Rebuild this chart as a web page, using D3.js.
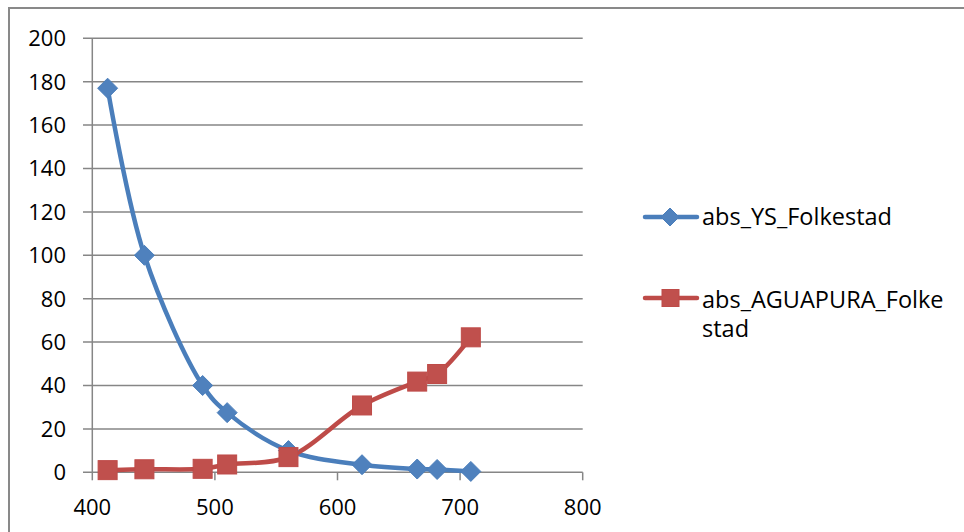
<!DOCTYPE html>
<html><head><meta charset="utf-8">
<script src="https://cdn.jsdelivr.net/npm/d3@7"></script>
<style>body{margin:0;background:#fff;} svg{display:block;}</style>
</head><body>
<script>
const wavelengths = [412.5, 442.5, 490, 510, 560, 620, 665, 681.25, 708.75];
const ysValues = [177, 100, 40, 27.5, 10, 3.5, 1.5, 1.3, 0.4];
const aguaValues = [1.0, 1.4, 1.6, 3.6, 7.0, 30.8, 41.8, 45.3, 62.2];
const seriesNames = ["abs_YS_Folkestad", "abs_AGUAPURA_Folkestad"];
const xTicks = [400, 500, 600, 700, 800];
const yTicks = [0, 20, 40, 60, 80, 100, 120, 140, 160, 180, 200];

const W = 964, H = 532;
const font = "'Open Sans', sans-serif";
const svg = d3.select("body").append("svg").attr("width", W).attr("height", H);

svg.append("rect").attr("x", 9).attr("y", 8).attr("width", 1000).attr("height", 600)
  .attr("fill", "none").attr("stroke", "#898989").attr("stroke-width", 2);

const x = d3.scaleLinear().domain([400, 800]).range([92.3, 582.7]);
const y = d3.scaleLinear().domain([0, 200]).range([472.3, 38.3]);
const grid = "#868686";

svg.append("g").selectAll("line").data(yTicks).join("line")
  .attr("x1", 83).attr("x2", x(800)).attr("y1", d => y(d)).attr("y2", d => y(d))
  .attr("stroke", grid).attr("stroke-width", 1.5);

svg.append("line").attr("x1", x(400)).attr("x2", x(400)).attr("y1", y(200)).attr("y2", y(0))
  .attr("stroke", grid).attr("stroke-width", 1.5);
svg.append("g").selectAll("line").data(xTicks).join("line")
  .attr("x1", d => x(d)).attr("x2", d => x(d)).attr("y1", y(0)).attr("y2", y(0) + 8)
  .attr("stroke", grid).attr("stroke-width", 1.5);

const tfs = 22;
svg.append("g").selectAll("text").data(yTicks).join("text")
  .attr("x", 66).attr("y", d => y(d)).attr("dy", "0.36em").attr("text-anchor", "end")
  .attr("font-family", font).attr("font-size", tfs).attr("fill", "#000").text(d => d);
svg.append("g").selectAll("text").data(xTicks).join("text")
  .attr("x", d => x(d)).attr("y", 515).attr("text-anchor", "middle")
  .attr("font-family", font).attr("font-size", tfs).attr("fill", "#000").text(d => d);

const line = d3.line().x(d => x(d[0])).y(d => y(d[1])).curve(d3.curveCatmullRom.alpha(0.5));
const blue = "#4A7EBB", red = "#BE4B48";
const ysData = wavelengths.map((w, i) => [w, ysValues[i]]);
const agData = wavelengths.map((w, i) => [w, aguaValues[i]]);

svg.append("path").attr("d", line(ysData)).attr("fill", "none").attr("stroke", blue).attr("stroke-width", 4.5).attr("stroke-linejoin", "round");
svg.append("path").attr("d", line(agData)).attr("fill", "none").attr("stroke", red).attr("stroke-width", 4.5).attr("stroke-linejoin", "round");

const diamond = (cx, cy, r) => `M${cx},${cy - r}L${cx + r},${cy}L${cx},${cy + r}L${cx - r},${cy}Z`;
svg.append("g").selectAll("path").data(ysData).join("path")
  .attr("d", d => diamond(x(d[0]), y(d[1]), 10)).attr("fill", "#4F81BD").attr("stroke", blue).attr("stroke-width", 1);
svg.append("g").selectAll("rect").data(agData).join("rect")
  .attr("x", d => x(d[0]) - 9.5).attr("y", d => y(d[1]) - 9.5).attr("width", 19).attr("height", 19)
  .attr("fill", "#C0504D").attr("stroke", red).attr("stroke-width", 1);

const lg = svg.append("g");
const lfs = 23.5;
lg.append("line").attr("x1", 645).attr("x2", 697).attr("y1", 217).attr("y2", 217).attr("stroke", blue).attr("stroke-width", 4.5).attr("stroke-linecap", "round");
lg.append("path").attr("d", diamond(670, 217, 9)).attr("fill", "#4F81BD").attr("stroke", blue);
lg.append("text").attr("x", 702).attr("y", 225).attr("font-family", font).attr("font-size", lfs).text(seriesNames[0]);
lg.append("line").attr("x1", 645).attr("x2", 697).attr("y1", 298).attr("y2", 298).attr("stroke", red).attr("stroke-width", 4.5).attr("stroke-linecap", "round");
lg.append("rect").attr("x", 662).attr("y", 289.5).attr("width", 17).attr("height", 17).attr("fill", "#C0504D").attr("stroke", red);
const t2 = lg.append("text").attr("font-family", font).attr("font-size", lfs);
t2.append("tspan").attr("x", 702).attr("y", 308).text(seriesNames[1].slice(0, 18));
t2.append("tspan").attr("x", 702).attr("y", 337).text(seriesNames[1].slice(18));
</script>
</body></html>
